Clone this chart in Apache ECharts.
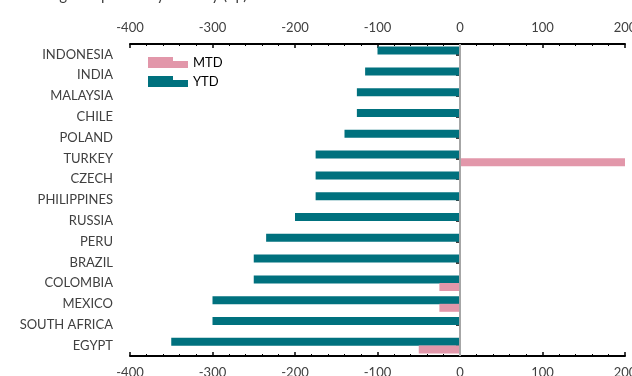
<!DOCTYPE html>
<html><head><meta charset="utf-8">
<script src="https://cdn.jsdelivr.net/npm/echarts@6/dist/echarts.min.js"></script>
<style>html,body{margin:0;padding:0;background:#fff;}#c{width:632px;height:376px;}</style>
</head><body><div id="c"></div>
<script>
const categories = ['INDONESIA','INDIA','MALAYSIA','CHILE','POLAND','TURKEY','CZECH','PHILIPPINES','RUSSIA','PERU','BRAZIL','COLOMBIA','MEXICO','SOUTH AFRICA','EGYPT'];
const ytd = [-100,-115,-125,-125,-140,-175,-175,-175,-200,-235,-250,-250,-300,-300,-350];
const mtd = [0,0,0,0,0,200,0,0,0,0,0,-25,-25,0,-50];
const titleText = 'Change in spreads by country (bp)';
const xTicks = [-400,-300,-200,-100,0,100,200];

const font = 'Lato, "Open Sans", sans-serif';
const labelColor = '#404040';
function xAxis(pos){
  return {
    type:'value', position:pos, min:xTicks[0], max:xTicks[xTicks.length-1], interval:100,
    axisLine:{show:true, onZero:false, lineStyle:{color:'#000', width:2}},
    axisTick:{show:true, inside:true, length:4, lineStyle:{color:'#000', width:1.5}},
    minorTick:{show:true, splitNumber:5, length:2, lineStyle:{color:'#000', width:1}},
    splitLine:{show:false},
    axisLabel:{color:labelColor, fontFamily:font, fontSize:13, margin:10, showMinLabel:true, showMaxLabel:true},
  };
}
const chart = echarts.init(document.getElementById('c'), null, {renderer:'canvas'});
chart.setOption({
  animation:false,
  title:{text:titleText, left:20, top:-17, textStyle:{fontFamily:font, fontSize:15, fontWeight:'normal', color:'#404040'}},
  legend:{
    data:['MTD','YTD'], orient:'vertical', left:148, top:56, padding:0,
    itemWidth:40, itemHeight:11, itemGap:6,
    icon:'path://M0,0 L25,0 L25,4 L40,4 L40,11 L0,11 Z',
    textStyle:{fontFamily:font, fontSize:13, color:'#000'}
  },
  grid:{left:130, right:7, top:44, bottom:20, containLabel:false, outerBoundsMode:'none'},
  xAxis:[xAxis('bottom'), xAxis('top')],
  yAxis:{
    type:'category', data:categories, inverse:true,
    axisLine:{show:true, lineStyle:{color:'#000', width:2}},
    axisTick:{show:true, alignWithLabel:true, length:4, lineStyle:{color:'#000', width:1.5}},
    axisLabel:{color:labelColor, fontFamily:font, fontSize:13, margin:17},
  },
  series:[
    {name:'YTD', type:'bar', data:ytd, barWidth:8, barGap:'-5%', itemStyle:{color:'#00717E'},
     markLine:{silent:true, symbol:'none', label:{show:false}, lineStyle:{color:'#A6A6A6', width:2, type:'solid'}, data:[{xAxis:0}]}},
    {name:'MTD', type:'bar', data:mtd, barWidth:8, itemStyle:{color:'#E297AA'}}
  ]
});
</script></body></html>
